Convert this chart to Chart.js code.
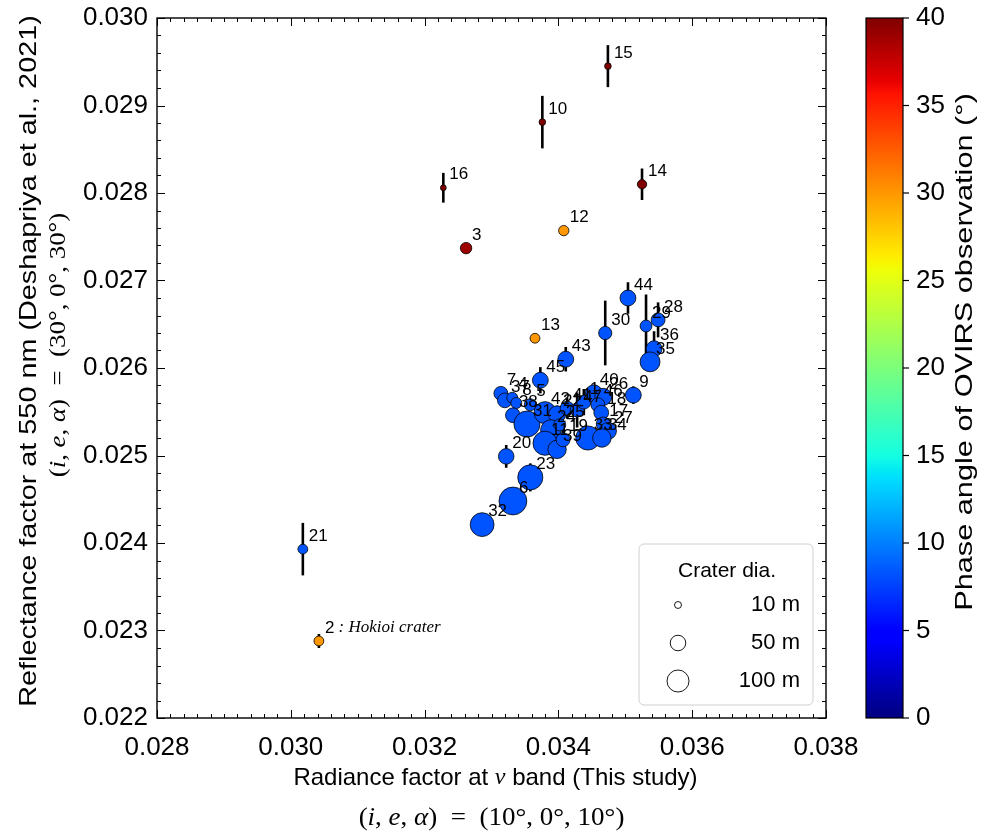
<!DOCTYPE html>
<html>
<head>
<meta charset="utf-8">
<script src="https://cdn.jsdelivr.net/npm/chart.js@4.4.0/dist/chart.umd.min.js"></script>
<style>
  html, body { margin: 0; padding: 0; background: #fff; }
</style>
</head>
<body>
<canvas id="craterChart" width="985" height="833"></canvas>
<script>
// Crater numbers and measured values
const craterIds = [15, 10, 14, 16, 3, 12, 13, 2, 21, 44, 30, 29, 28, 36, 35, 43, 45, 9, 20, 23, 6, 32,
  7, 37, 4, 5, 8, 38, 31, 42, 22, 41, 47, 24, 11, 39, 19, 25, 1, 40, 26, 46, 18, 17, 27, 33, 34];
const radianceV = [0.03474, 0.03376, 0.03525, 0.03228, 0.03262, 0.03408, 0.03365, 0.03042, 0.03018, 0.03504,
  0.03470, 0.03531, 0.03549, 0.03543, 0.03537, 0.03411, 0.03373, 0.03512, 0.03322, 0.03358, 0.03332, 0.03286,
  0.03314, 0.03320, 0.03331, 0.03358, 0.03337, 0.03332, 0.03353, 0.03380, 0.03398, 0.03413, 0.03428, 0.03389,
  0.03380, 0.03398, 0.03407, 0.03402, 0.03438, 0.03453, 0.03467, 0.03459, 0.03464, 0.03467, 0.03474, 0.03444, 0.03465];
const reflect550 = [0.02945, 0.02881, 0.02810, 0.02806, 0.02737, 0.02757, 0.02634, 0.02288, 0.02393, 0.02680,
  0.02640, 0.02648, 0.02655, 0.02622, 0.02607, 0.02610, 0.02586, 0.02569, 0.02499, 0.02475, 0.02448, 0.02421,
  0.02571, 0.02563, 0.02566, 0.02558, 0.02560, 0.02546, 0.02536, 0.02549, 0.02547, 0.02554, 0.02552, 0.02529,
  0.02514, 0.02507, 0.02518, 0.02535, 0.02561, 0.02571, 0.02567, 0.02558, 0.02549, 0.02536, 0.02528, 0.02520, 0.02520];
const reflectErr = [0.00024, 0.00030, 0.00018, 0.00017, 0, 0, 0, 0.00008, 0.00030, 0.00018,
  0.00037, 0.00036, 0.00020, 0.00020, 0, 0.00014, 0.00015, 0.00010, 0.00013, 0.00016, 0, 0,
  0, 0, 0, 0, 0, 0, 0, 0.00010, 0.00010, 0.00012, 0.00020, 0.00020,
  0, 0, 0.00015, 0.00012, 0.00015, 0, 0, 0, 0.00012, 0.00010, 0, 0, 0];
const craterDia = [9, 9, 18, 7, 27, 22, 20, 20, 20, 52,
  36, 29, 40, 52, 82, 52, 52, 52, 50, 130, 160, 117,
  40, 45, 25, 30, 25, 45, 140, 100, 60, 40, 40, 90,
  120, 70, 40, 30, 40, 60, 60, 40, 45, 40, 60, 120, 70];
const phaseAngle = [40, 40, 40, 40, 39, 30, 30, 30, 8.3, 8.3,
  8.3, 8.3, 8.3, 8.3, 8.3, 8.3, 8.3, 8.3, 8.3, 8.3, 8.3, 8.3,
  8.3, 8.3, 8.3, 8.3, 8.3, 8.3, 8.3, 8.3, 8.3, 8.3, 8.3, 8.3,
  8.3, 8.3, 8.3, 8.3, 8.3, 8.3, 8.3, 8.3, 8.3, 8.3, 8.3, 8.3, 8.3];

const legendDia = [10, 50, 100];
const phaseTicks = [0, 5, 10, 15, 20, 25, 30, 35, 40];
const phaseMax = 40;

const SANS = '"Liberation Sans", Arial, sans-serif';
const SERIF = '"Liberation Serif", "Times New Roman", serif';

// matplotlib 'jet' segment data
const jetSeg = {
  r: [[0, 0], [0.35, 0], [0.66, 1], [0.89, 1], [1, 0.5]],
  g: [[0, 0], [0.125, 0], [0.375, 1], [0.64, 1], [0.91, 0], [1, 0]],
  b: [[0, 0.5], [0.11, 1], [0.34, 1], [0.65, 0], [1, 0]]
};
function segVal(seg, v) {
  for (let i = 1; i < seg.length; i++) {
    if (v <= seg[i][0]) {
      const [x0, y0] = seg[i - 1], [x1, y1] = seg[i];
      return y0 + (y1 - y0) * (v - x0) / (x1 - x0);
    }
  }
  return seg[seg.length - 1][1];
}
function jet(v) {
  v = Math.max(0, Math.min(1, v));
  const r = Math.round(segVal(jetSeg.r, v) * 255);
  const g = Math.round(segVal(jetSeg.g, v) * 255);
  const b = Math.round(segVal(jetSeg.b, v) * 255);
  return `rgb(${r},${g},${b})`;
}
function markerRadius(d) { return 1.1 * Math.sqrt(d); }

const points = radianceV.map((x, i) => ({ x: x, y: reflect550[i] }));
const radii = craterDia.map(markerRadius);
const colors = phaseAngle.map(p => jet(p / phaseMax));

// text made of pieces in different fonts, centred on (cx, cy);
// stretch widens it along its own direction
function drawRuns(ctx, runs, cx, cy, angle, stretch) {
  ctx.save();
  ctx.translate(cx, cy);
  if (angle) ctx.rotate(angle);
  if (stretch) ctx.scale(stretch, 1);
  let total = 0;
  runs.forEach(r => { ctx.font = r.font; total += ctx.measureText(r.text).width; });
  let x = -total / 2;
  ctx.textBaseline = 'middle';
  ctx.textAlign = 'left';
  ctx.fillStyle = '#000';
  runs.forEach(r => {
    ctx.font = r.font;
    ctx.fillText(r.text, x, 0);
    x += ctx.measureText(r.text).width;
  });
  ctx.restore();
}

const angleRuns = (a1, a2, size) => [
  { text: '(', font: size + 'px ' + SERIF },
  { text: 'i', font: 'italic ' + size + 'px ' + SERIF },
  { text: ', ', font: size + 'px ' + SERIF },
  { text: 'e', font: 'italic ' + size + 'px ' + SERIF },
  { text: ', ', font: size + 'px ' + SERIF },
  { text: 'α', font: 'italic ' + size + 'px ' + SERIF },
  { text: ')  =  (' + a1 + '°, 0°, ' + a2 + '°)', font: size + 'px ' + SERIF }
];

const decorPlugin = {
  id: 'decor',
  beforeDatasetsDraw(chart) {
    const { ctx, scales: { x, y } } = chart;
    ctx.save();
    ctx.strokeStyle = '#000';
    ctx.lineWidth = 2.6;
    reflectErr.forEach((e, i) => {
      if (!e) return;
      const px = x.getPixelForValue(radianceV[i]);
      ctx.beginPath();
      ctx.moveTo(px, y.getPixelForValue(reflect550[i] + e));
      ctx.lineTo(px, y.getPixelForValue(reflect550[i] - e));
      ctx.stroke();
    });
    ctx.restore();
  },
  afterDatasetsDraw(chart) {
    const { ctx, scales: { x, y } } = chart;
    ctx.save();
    ctx.fillStyle = '#000';
    ctx.textBaseline = 'middle';
    ctx.textAlign = 'left';
    craterIds.forEach((id, i) => {
      const px = x.getPixelForValue(radianceV[i]) + 6;
      const py = y.getPixelForValue(reflect550[i]) - 13;
      ctx.font = '17px ' + SANS;
      ctx.fillText(String(id), px, py);
      if (id === 2) {
        const w = ctx.measureText('2').width;
        ctx.font = 'italic 17px ' + SERIF;
        ctx.fillText(' : Hokioi crater', px + w, py);
      }
    });
    ctx.restore();
  },
  afterDraw(chart) {
    const { ctx, chartArea: a, scales: { x, y } } = chart;
    ctx.save();

    // inward ticks on all four sides
    ctx.strokeStyle = '#000';
    ctx.lineWidth = 1;
    for (let i = 0; i <= 50; i++) {
      const px = Math.round(x.getPixelForValue(0.028 + i * 0.0002)) + 0.5;
      const len = i % 10 === 0 ? 8 : 4;
      ctx.beginPath();
      ctx.moveTo(px, a.bottom); ctx.lineTo(px, a.bottom - len);
      ctx.moveTo(px, a.top); ctx.lineTo(px, a.top + len);
      ctx.stroke();
    }
    for (let i = 0; i <= 40; i++) {
      const py = Math.round(y.getPixelForValue(0.022 + i * 0.0002)) + 0.5;
      const len = i % 5 === 0 ? 8 : 4;
      ctx.beginPath();
      ctx.moveTo(a.left, py); ctx.lineTo(a.left + len, py);
      ctx.moveTo(a.right, py); ctx.lineTo(a.right - len, py);
      ctx.stroke();
    }
    ctx.lineWidth = 1.4;
    ctx.strokeRect(a.left, a.top, a.right - a.left, a.bottom - a.top);

    // axis titles
    const midX = (a.left + a.right) / 2;
    drawRuns(ctx, [
      { text: 'Radiance factor at ', font: '24px ' + SANS },
      { text: 'v', font: 'italic 24px ' + SERIF },
      { text: ' band (This study)', font: '24px ' + SANS }
    ], midX + 4, 778);
    drawRuns(ctx, angleRuns(10, 10, 25), midX, 818, 0, 1.08);
    drawRuns(ctx, [{ text: 'Reflectance factor at 550 nm (Deshapriya et al., 2021)', font: '24px ' + SANS }],
      29, 361, -Math.PI / 2, 1.2);
    drawRuns(ctx, angleRuns(30, 30, 24), 59, 345, -Math.PI / 2, 1.12);

    // colour bar
    const cbL = 866, cbR = 903;
    const cbT = Math.round(a.top), cbB = Math.round(a.bottom);
    for (let py = cbT; py < cbB; py++) {
      ctx.fillStyle = jet(1 - (py + 0.5 - cbT) / (cbB - cbT));
      ctx.fillRect(cbL, py, cbR - cbL, 1);
    }
    ctx.lineWidth = 1.2;
    ctx.strokeStyle = '#000';
    ctx.strokeRect(cbL, cbT, cbR - cbL, cbB - cbT);
    ctx.font = '26px ' + SANS;
    ctx.fillStyle = '#000';
    ctx.textAlign = 'left';
    ctx.textBaseline = 'middle';
    phaseTicks.forEach(t => {
      const py = cbB - (t / phaseMax) * (cbB - cbT);
      ctx.beginPath();
      ctx.moveTo(cbR, py); ctx.lineTo(cbR + 6, py);
      ctx.stroke();
      ctx.fillText(String(t), cbR + 13, py);
    });
    drawRuns(ctx, [{ text: 'Phase angle of OVIRS observation (°)', font: '24px ' + SANS }],
      965, 352, -Math.PI / 2, 1.28);

    // size legend
    const lx = 639, ly = 544, lw = 174, lh = 161;
    ctx.beginPath();
    ctx.roundRect(lx, ly, lw, lh, 5);
    ctx.fillStyle = 'rgba(255,255,255,0.85)';
    ctx.fill();
    ctx.strokeStyle = '#d0d0d0';
    ctx.lineWidth = 1;
    ctx.stroke();
    ctx.fillStyle = '#000';
    ctx.font = '21px ' + SANS;
    ctx.textAlign = 'center';
    ctx.fillText('Crater dia.', lx + 88, ly + 27);
    ctx.font = '22px ' + SANS;
    ctx.textAlign = 'right';
    legendDia.forEach((d, i) => {
      const cy = ly + 61 + i * 38;
      ctx.beginPath();
      ctx.arc(678, cy, markerRadius(d), 0, Math.PI * 2);
      ctx.fillStyle = '#fff';
      ctx.fill();
      ctx.strokeStyle = '#000';
      ctx.lineWidth = 0.9;
      ctx.stroke();
      ctx.fillStyle = '#000';
      ctx.fillText(d + ' m', 800, cy);
    });
    ctx.restore();
  }
};

const ctx = document.getElementById('craterChart').getContext('2d');
const craterChart = new Chart(ctx, {
  type: 'scatter',
  data: {
    datasets: [{
      data: points,
      pointRadius: radii,
      pointHoverRadius: radii,
      pointBackgroundColor: colors,
      pointBorderColor: '#000',
      pointBorderWidth: 0.8
    }]
  },
  options: {
    responsive: false,
    animation: false,
    events: [],
    layout: { padding: { top: 18, right: 159, left: 0, bottom: 0 } },
    plugins: { legend: { display: false }, tooltip: { enabled: false } },
    scales: {
      x: {
        type: 'linear', min: 0.028, max: 0.038,
        grid: { display: false, drawTicks: false }, border: { display: false },
        ticks: {
          stepSize: 0.002, autoSkip: false, maxRotation: 0, padding: 14, color: '#000',
          font: { size: 26, family: SANS },
          callback: v => v.toFixed(3)
        },
        afterFit: s => { s.height = 115; s.paddingLeft = 0; s.paddingRight = 0; }
      },
      y: {
        type: 'linear', min: 0.022, max: 0.030,
        grid: { display: false, drawTicks: false }, border: { display: false },
        ticks: {
          stepSize: 0.001, autoSkip: false, padding: 9, color: '#000',
          font: { size: 26, family: SANS },
          callback: v => v.toFixed(3)
        },
        afterFit: s => { s.width = 157; s.paddingTop = 0; s.paddingBottom = 0; }
      }
    }
  },
  plugins: [decorPlugin]
});
</script>
</body>
</html>
